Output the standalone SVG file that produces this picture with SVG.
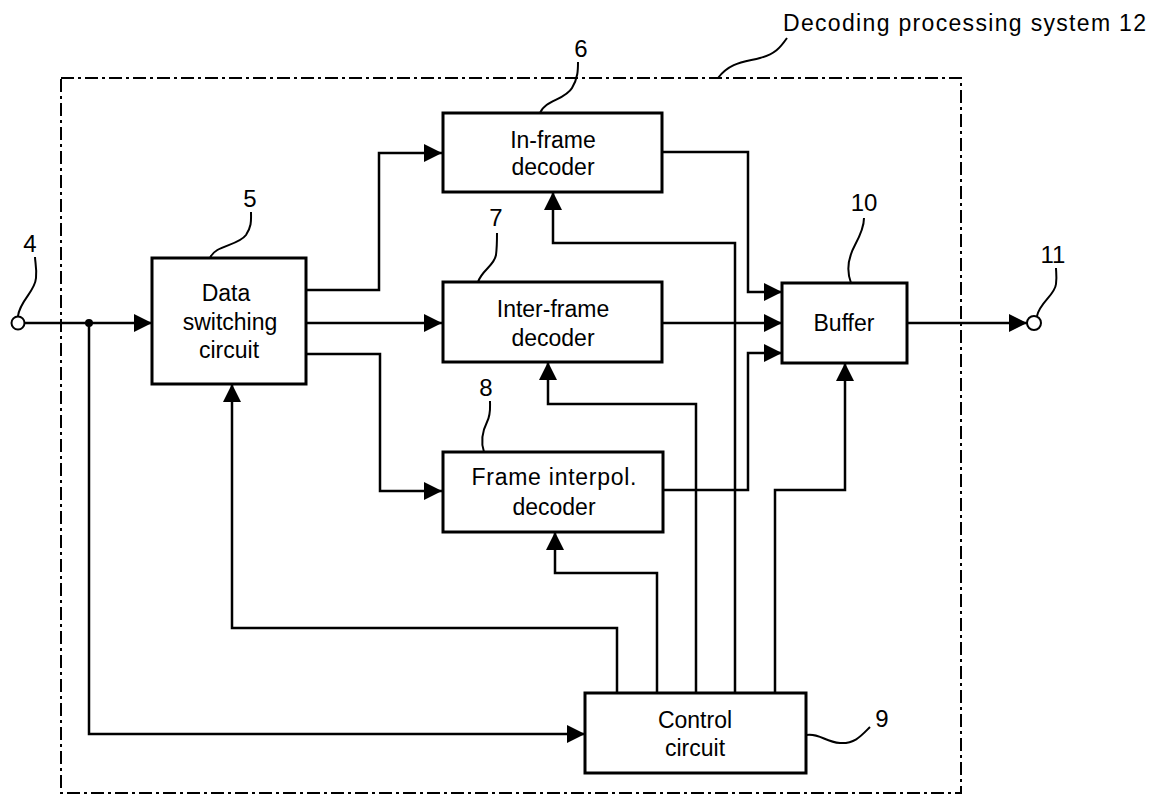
<svg xmlns="http://www.w3.org/2000/svg" width="1150" height="797" viewBox="0 0 1150 797">
<style>
  .box{fill:#fff;stroke:#000;stroke-width:3}
  .lbl{font-family:"Liberation Sans",Arial,sans-serif;font-size:23px;fill:#000;text-anchor:middle}
  .num{font-family:"Liberation Sans",Arial,sans-serif;font-size:24px;fill:#000;text-anchor:middle}
  .ttl{font-family:"Liberation Sans",Arial,sans-serif;font-size:23px;fill:#000}
  .wire{fill:none;stroke:#000;stroke-width:2.5}
  .arr{fill:none;stroke:#000;stroke-width:2.5;marker-end:url(#ah)}
  .lead{fill:none;stroke:#000;stroke-width:2}
  .frame{fill:none;stroke:#000;stroke-width:2;stroke-dasharray:13 4 3 4}
</style>
<defs>
  <marker id="ah" markerUnits="userSpaceOnUse" markerWidth="18" markerHeight="18" refX="18" refY="9" orient="auto">
    <path d="M0,0 L18,9 L0,18 z" fill="#000"/>
  </marker>
</defs>
<rect width="1150" height="797" fill="#fff"/>

<g id="system12">
  <rect class="frame" x="61" y="78" width="900" height="715"/>
  <text class="ttl" x="783" y="31" textLength="363" lengthAdjust="spacing">Decoding processing system 12</text>
  <path class="lead" d="M718,78 C730,62 745,62 760,58 C775,54 780,48 787,38"/>
</g>

<g id="connectors">
  <path class="arr" d="M25,323 H152"/>
  <path class="arr" d="M89,323 V734 H585"/>
  <path class="arr" d="M306,290 H379 V153 H442"/>
  <path class="arr" d="M306,323 H442"/>
  <path class="arr" d="M306,354 H380 V491 H442"/>
  <path class="arr" d="M662,152 H748 V292 H782"/>
  <path class="arr" d="M662,323 H782"/>
  <path class="arr" d="M663,490 H748 V353 H782"/>
  <path class="arr" d="M617,693 V628 H232 V384"/>
  <path class="arr" d="M657,693 V573 H555 V532"/>
  <path class="arr" d="M696,693 V404 H548 V362"/>
  <path class="arr" d="M735,693 V243 H553 V192"/>
  <path class="arr" d="M775,693 V490 H845 V363"/>
  <path class="arr" d="M907,323 H1027"/>
  <circle cx="89" cy="323" r="4" fill="#000"/>
</g>

<g id="t4">
  <circle cx="18" cy="323" r="6.5" fill="#fff" stroke="#000" stroke-width="2"/>
  <text class="num" x="30" y="252">4</text>
  <path class="lead" d="M18,316 C20,300 35,292 36,278 C37,268 35,262 35,257"/>
</g>

<g id="n5">
  <rect class="box" x="152" y="258" width="154" height="126"/>
  <text class="lbl" x="226" y="301">Data</text>
  <text class="lbl" x="230" y="330">switching</text>
  <text class="lbl" x="229" y="358">circuit</text>
  <text class="num" x="250" y="207">5</text>
  <path class="lead" d="M210,258 C215,245 238,246 246,235 C252,226 251,220 251,212"/>
</g>

<g id="n6">
  <rect class="box" x="443" y="113" width="219" height="79"/>
  <text class="lbl" x="553" y="148">In-frame</text>
  <text class="lbl" x="553" y="175">decoder</text>
  <text class="num" x="581" y="57">6</text>
  <path class="lead" d="M540,113 C545,100 565,100 572,88 C578,78 578,70 578,62"/>
</g>

<g id="n7">
  <rect class="box" x="443" y="282" width="219" height="80"/>
  <text class="lbl" x="553" y="317">Inter-frame</text>
  <text class="lbl" x="553" y="346">decoder</text>
  <text class="num" x="496" y="226">7</text>
  <path class="lead" d="M478,282 C482,270 494,266 496,255 C497,247 497,240 497,233"/>
</g>

<g id="n8">
  <rect class="box" x="443" y="452" width="220" height="80"/>
  <text class="lbl" x="554" y="485" textLength="165" lengthAdjust="spacing">Frame interpol.</text>
  <text class="lbl" x="554" y="515">decoder</text>
  <text class="num" x="486" y="396">8</text>
  <path class="lead" d="M484,452 C480,440 483,430 487,422 C491,414 490,408 490,401"/>
</g>

<g id="n9">
  <rect class="box" x="585" y="693" width="221" height="80"/>
  <text class="lbl" x="695" y="728">Control</text>
  <text class="lbl" x="695" y="756">circuit</text>
  <text class="num" x="882" y="727">9</text>
  <path class="lead" d="M806,735 C820,733 825,742 840,743 C855,744 862,735 870,727"/>
</g>

<g id="n10">
  <rect class="box" x="782" y="283" width="125" height="80"/>
  <text class="lbl" x="844" y="331">Buffer</text>
  <text class="num" x="864" y="211">10</text>
  <path class="lead" d="M851,283 C846,270 848,258 855,245 C862,232 864,225 864,218"/>
</g>

<g id="t11">
  <circle cx="1034" cy="323" r="7" fill="#fff" stroke="#000" stroke-width="2"/>
  <text class="num" x="1053" y="263">11</text>
  <path class="lead" d="M1037,316 C1040,302 1055,295 1056,284 C1057,276 1056,272 1056,268"/>
</g>
</svg>
